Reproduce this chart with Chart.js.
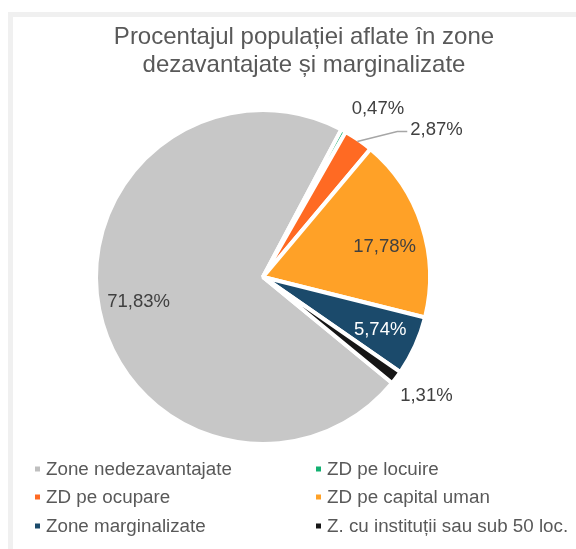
<!DOCTYPE html>
<html>
<head>
<meta charset="utf-8">
<script src="https://cdn.jsdelivr.net/npm/chart.js@4/dist/chart.umd.min.js"></script>
<style>
  html, body { margin: 0; padding: 0; background: #ffffff; }
  #wrap { position: relative; width: 576px; height: 549px; }
</style>
</head>
<body>
<div id="wrap"><canvas id="c" width="576" height="549"></canvas></div>
<script>
const titleLines = ["Procentajul populației aflate în zone", "dezavantajate și marginalizate"];
const categories = ["Zone nedezavantajate", "ZD pe locuire", "ZD pe ocupare", "ZD pe capital uman", "Zone marginalizate", "Z. cu instituții sau sub 50 loc."];
const values = [71.83, 0.47, 2.87, 17.78, 5.74, 1.31];
const valueLabels = ["71,83%", "0,47%", "2,87%", "17,78%", "5,74%", "1,31%"];

const colors = ["#C7C7C7", "#12B071", "#FF6A23", "#FFA127", "#1B4A6B", "#161616"];
const legendColors = ["#BFBFBF", "#12B071", "#FF6A23", "#FFA127", "#1B4A6B", "#161616"];
// label placement: radius factor, angle nudge (deg), color, leader line
const labelPlace = [
  { r: 0.76, da: 0, color: "#404040" },
  { r: 1.22, da: 5.5, color: "#404040" },
  { r: 1.0, da: 0, color: "#404040", leader: true },
  { r: 0.75, da: 4, color: "#404040" },
  { r: 0.77, da: 0, color: "#FFFFFF" },
  { r: 1.21, da: -1, color: "#404040" }
];

const FONT = "'Liberation Sans', Arial, sans-serif";

const framePlugin = {
  id: 'frame',
  beforeDraw(chart) {
    const ctx = chart.ctx;
    ctx.save();
    ctx.fillStyle = '#F0F0F0';
    ctx.fillRect(8, 12, 576 - 8, 5);
    ctx.fillRect(8, 12, 5, 549 - 12);
    ctx.restore();
  }
};

const labelPlugin = {
  id: 'sliceLabels',
  afterDatasetsDraw(chart) {
    const ctx = chart.ctx;
    const meta = chart.getDatasetMeta(0);
    ctx.save();
    ctx.font = "18.5px " + FONT;
    ctx.textBaseline = 'middle';
    meta.data.forEach((arc, i) => {
      const p = arc.getProps(['x', 'y', 'startAngle', 'endAngle', 'outerRadius'], true);
      const lp = labelPlace[i];
      const mid = (p.startAngle + p.endAngle) / 2;
      if (lp.leader) {
        const R = p.outerRadius - 2;
        const sx = p.x + Math.cos(mid) * R;
        const sy = p.y + Math.sin(mid) * R;
        const ex = sx + 40, ey = sy - 10;
        ctx.strokeStyle = '#A6A6A6';
        ctx.lineWidth = 1.5;
        ctx.beginPath();
        ctx.moveTo(sx, sy);
        ctx.lineTo(ex, ey);
        ctx.lineTo(ex + 10, ey);
        ctx.stroke();
        ctx.fillStyle = lp.color;
        ctx.textAlign = 'left';
        ctx.fillText(valueLabels[i], ex + 13, ey - 2);
      } else {
        const a = mid + lp.da * Math.PI / 180;
        const r = p.outerRadius * lp.r;
        ctx.fillStyle = lp.color;
        ctx.textAlign = 'center';
        ctx.fillText(valueLabels[i], p.x + Math.cos(a) * r, p.y + Math.sin(a) * r);
      }
    });
    ctx.restore();
  },
  afterDraw(chart) {
    const ctx = chart.ctx;
    ctx.save();
    // title
    ctx.fillStyle = '#595959';
    ctx.font = "24px " + FONT;
    ctx.textAlign = 'center';
    ctx.textBaseline = 'alphabetic';
    ctx.fillText(titleLines[0], 304, 44);
    ctx.fillText(titleLines[1], 304, 72);
    // legend (two columns)
    const colX = [35, 316];
    const rowY = [469, 497, 526];
    ctx.font = "18.8px " + FONT;
    ctx.textAlign = 'left';
    ctx.textBaseline = 'middle';
    categories.forEach((c, i) => {
      const x = colX[i % 2], y = rowY[Math.floor(i / 2)];
      ctx.fillStyle = legendColors[i];
      ctx.fillRect(x, y - 2.5, 5, 5);
      ctx.fillStyle = '#595959';
      ctx.fillText(c, x + 11, y + 1);
    });
    ctx.restore();
  }
};

new Chart(document.getElementById('c'), {
  type: 'pie',
  data: {
    labels: categories,
    datasets: [{
      data: values,
      backgroundColor: colors,
      borderColor: '#FFFFFF',
      borderWidth: 4
    }]
  },
  options: {
    responsive: false,
    animation: false,
    rotation: 129.4,
    layout: { padding: { left: 94, right: 144, top: 108, bottom: 103 } },
    plugins: {
      legend: { display: false },
      title: { display: false },
      tooltip: { enabled: false }
    }
  },
  plugins: [framePlugin, labelPlugin]
});
</script>
</body>
</html>
